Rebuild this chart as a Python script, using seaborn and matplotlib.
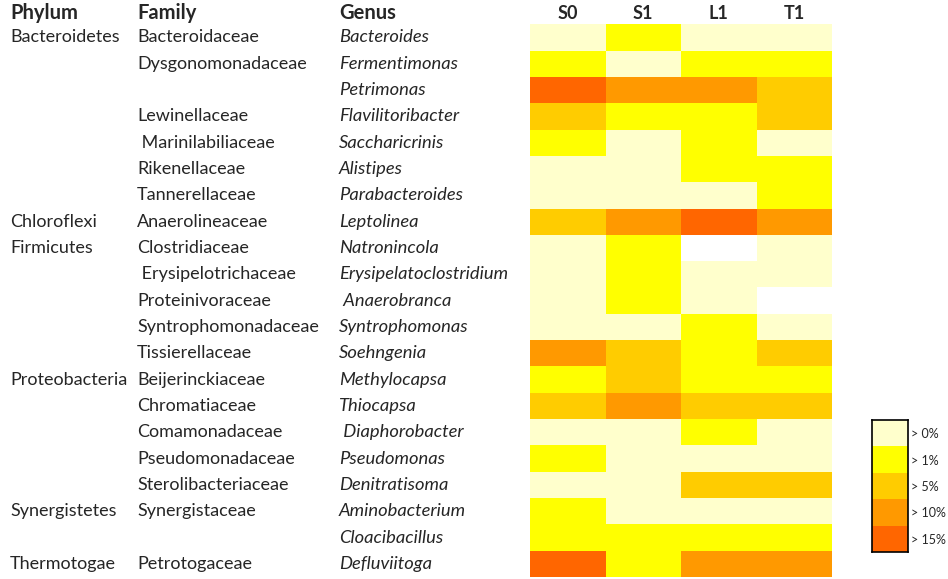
import numpy as np
import pandas as pd
import matplotlib
matplotlib.use("Agg")
import matplotlib.pyplot as plt
import matplotlib.transforms as mtransforms
from matplotlib.colors import ListedColormap
import seaborn as sns

sns.set_style("white")
plt.rcParams["font.family"] = ["Lato", "DejaVu Sans"]

# ----------------------------
# Data (abundance class per genus and sample)
# 0 = absent, 1 = >0%, 2 = >1%, 3 = >5%, 4 = >10%, 5 = >15%
# ----------------------------
samples = ["S0", "S1", "L1", "T1"]

phylum = ["Bacteroidetes", "", "", "", "", "", "",
          "Chloroflexi", "Firmicutes", "", "", "", "",
          "Proteobacteria", "", "", "", "",
          "Synergistetes", "", "Thermotogae"]

family = ["Bacteroidaceae", "Dysgonomonadaceae", "", "Lewinellaceae",
          " Marinilabiliaceae", "Rikenellaceae", "Tannerellaceae",
          "Anaerolineaceae", "Clostridiaceae", " Erysipelotrichaceae",
          "Proteinivoraceae", "Syntrophomonadaceae", "Tissierellaceae",
          "Beijerinckiaceae", "Chromatiaceae", "Comamonadaceae",
          "Pseudomonadaceae", "Sterolibacteriaceae", "Synergistaceae",
          "", "Petrotogaceae"]

genus = ["Bacteroides", "Fermentimonas", "Petrimonas", "Flavilitoribacter",
         "Saccharicrinis", "Alistipes", "Parabacteroides", "Leptolinea",
         "Natronincola", "Erysipelatoclostridium", " Anaerobranca",
         "Syntrophomonas", "Soehngenia", "Methylocapsa", "Thiocapsa",
         " Diaphorobacter", "Pseudomonas", "Denitratisoma", "Aminobacterium",
         "Cloacibacillus", "Defluviitoga"]

s0 = [1, 2, 5, 3, 2, 1, 1, 3, 1, 1, 1, 1, 4, 2, 3, 1, 2, 1, 2, 2, 5]
s1 = [2, 1, 4, 2, 1, 1, 1, 4, 2, 2, 2, 1, 3, 3, 4, 1, 1, 1, 1, 2, 2]
l1 = [1, 2, 4, 2, 2, 2, 1, 5, 0, 1, 1, 2, 2, 2, 3, 2, 1, 3, 1, 2, 4]
t1 = [1, 2, 3, 3, 1, 2, 2, 4, 1, 1, 0, 1, 3, 2, 3, 1, 1, 3, 1, 2, 4]

legend_labels = ["> 0%", "> 1%", "> 5%", "> 10%", "> 15%"]
legend_levels = [1, 2, 3, 4, 5]

colors = ["#FFFFFF", "#FFFFCC", "#FFFF00", "#FFCC00", "#FF9900", "#FF6600"]
cmap = ListedColormap(colors)

data = pd.DataFrame({"S0": s0, "S1": s1, "L1": l1, "T1": t1}, index=genus)

# ----------------------------
# Figure layout (pixel based)
# ----------------------------
W, H = 948, 579
fig = plt.figure(figsize=(W / 100, H / 100), dpi=100)

def px_axes(x0, y0, x1, y1):
    return fig.add_axes([x0 / W, 1 - y1 / H, (x1 - x0) / W, (y1 - y0) / H])

ax = px_axes(530, 24.3, 832, 577)
sns.heatmap(data, ax=ax, cmap=cmap, vmin=-0.5, vmax=5.5, cbar=False,
            linewidths=0, yticklabels=False)
ax.xaxis.tick_top()
ax.set_xticklabels(samples, fontsize=13, fontweight="bold")
ax.tick_params(axis="x", length=0, pad=1.5)
ax.tick_params(axis="y", length=0)
ax.set_xlabel("")
ax.set_ylabel("")

# table text to the left of the heatmap
trans = mtransforms.blended_transform_factory(fig.transFigure, ax.transData)
col_x = [10 / W, 137 / W, 339 / W]
head_y = 13 / H
for x, head in zip(col_x, ["Phylum", "Family", "Genus"]):
    fig.text(x, 1 - head_y, head, fontsize=14.5, fontweight="bold",
             va="center", ha="left")

for i in range(len(genus)):
    y = i + 0.5
    ax.text(col_x[0], y, phylum[i], transform=trans, fontsize=13,
            va="center", ha="left")
    ax.text(col_x[1], y, family[i], transform=trans, fontsize=13,
            va="center", ha="left")
    ax.text(col_x[2], y, genus[i], transform=trans, fontsize=13.2,
            va="center", ha="left", style="italic")

# ----------------------------
# Legend as a small one-column heatmap
# ----------------------------
lax = px_axes(872, 420, 908, 552)
leg = pd.DataFrame({"level": legend_levels}, index=legend_labels)
sns.heatmap(leg, ax=lax, cmap=cmap, vmin=-0.5, vmax=5.5, cbar=False,
            xticklabels=False, linewidths=0)
lax.yaxis.tick_right()
lax.set_yticklabels(legend_labels, rotation=0, fontsize=9)
lax.tick_params(axis="y", length=0, pad=2)
lax.set_ylabel("")
for sp in lax.spines.values():
    sp.set_visible(True)
    sp.set_color("black")
    sp.set_linewidth(1.2)

fig.savefig("out.png", dpi=100)
